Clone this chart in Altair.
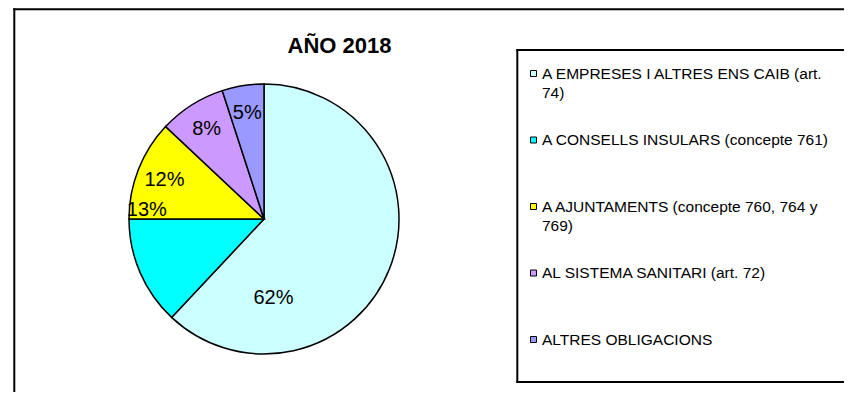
import altair as alt
import pandas as pd

# ---- data ----
categories = [
    "A EMPRESES I ALTRES ENS CAIB (art. 74)",
    "A CONSELLS INSULARS (concepte 761)",
    "A AJUNTAMENTS (concepte 760, 764 y 769)",
    "AL SISTEMA SANITARI (art. 72)",
    "ALTRES OBLIGACIONS",
]
legend_text = [
    "A EMPRESES I ALTRES ENS CAIB (art.|74)",
    "A CONSELLS INSULARS (concepte 761)",
    "A AJUNTAMENTS (concepte 760, 764 y|769)",
    "AL SISTEMA SANITARI (art. 72)",
    "ALTRES OBLIGACIONS",
]
percentages = [62, 13, 12, 8, 5]
colors = ["#CCFFFF", "#00FFFF", "#FFFF00", "#CC99FF", "#9999FF"]
title_text = "AÑO 2018"

df = pd.DataFrame({
    "cat": categories,
    "legend": legend_text,
    "value": percentages,
    "idx": list(range(len(categories))),
})
total = sum(percentages)

FONT = "Liberation Sans"
color_enc = alt.Color("cat:N", scale=alt.Scale(domain=categories, range=colors), legend=None)
one = pd.DataFrame({"a": [0]})

CX, CY, R = 256, 211, 135
W, H = 836, 384

frame_rows = pd.DataFrame({"a": [0]})
outer_top = alt.Chart(frame_rows).mark_rule(stroke="black", strokeWidth=2).encode(
    x=alt.value(5.3), x2=alt.value(W), y=alt.value(1.3)
)
outer_left = alt.Chart(frame_rows).mark_rule(stroke="black", strokeWidth=2).encode(
    x=alt.value(6.3), y=alt.value(0.3), y2=alt.value(H)
)
box_top = alt.Chart(frame_rows).mark_rule(stroke="black", strokeWidth=2).encode(
    x=alt.value(508.3), x2=alt.value(W), y=alt.value(42)
)
box_bottom = alt.Chart(frame_rows).mark_rule(stroke="black", strokeWidth=2).encode(
    x=alt.value(508.3), x2=alt.value(W), y=alt.value(374)
)
box_left = alt.Chart(frame_rows).mark_rule(stroke="black", strokeWidth=2).encode(
    x=alt.value(509.3), y=alt.value(41), y2=alt.value(375)
)

theta_scale = alt.Scale(domain=[0, total])

pie = alt.Chart(df).mark_arc(radius=R, stroke="black", strokeWidth=1.5).encode(
    theta=alt.Theta("value:Q", stack=True, scale=theta_scale),
    color=color_enc,
    order=alt.Order("idx:Q"),
    x=alt.value(CX),
    y=alt.value(CY),
)

lab_base = alt.Chart(df).transform_window(
    cum="sum(value)", sort=[alt.SortField("idx")], frame=[None, 0]
).transform_calculate(
    mid="datum.cum - datum.value / 2",
    label="datum.value + '%'",
)

def label_layer(cond, dx=0, dy=0):
    return lab_base.transform_filter(cond).mark_text(
        radius=107, fontSize=20, font=FONT, color="black", dx=dx, dy=dy, baseline="middle"
    ).encode(
        theta=alt.Theta("mid:Q", stack=None, scale=theta_scale),
        text="label:N",
        x=alt.value(CX),
        y=alt.value(CY),
    )

labels_main = label_layer("datum.idx >= 2")
label_62 = label_layer("datum.idx == 0", dx=-90, dy=40)
label_13 = label_layer("datum.idx == 1", dx=-19, dy=-51)

title = alt.Chart(one).mark_text(
    text=title_text, fontSize=22, fontWeight="bold", font=FONT, color="black", baseline="middle"
).encode(x=alt.value(331.5), y=alt.value(38.2))

ypos = alt.Y("idx:Q", scale=alt.Scale(domain=[0, 4], range=[65.5, 331.5]), axis=None)

leg_sym = alt.Chart(df).mark_square(size=36, stroke="black", strokeWidth=1, opacity=1).encode(
    x=alt.value(525.5), y=ypos, color=color_enc
)
leg_txt = alt.Chart(df).transform_calculate(
    lines="split(datum.legend, '|')"
).mark_text(
    align="left", baseline="top", fontSize=15.5, lineHeight=19, font=FONT, color="black", dy=-6.8
).encode(x=alt.value(534), y=ypos, text="lines:N")

chart = alt.layer(
    outer_top, outer_left, box_top, box_bottom, box_left,
    pie, labels_main, label_62, label_13, title, leg_sym, leg_txt
).resolve_scale(theta="shared").properties(
    width=W, height=H, padding=0, autosize=alt.AutoSizeParams(type="none"),
    background="white",
).configure_view(stroke=None)

chart.save("out.html", embed_options={"renderer": "svg", "actions": False})
